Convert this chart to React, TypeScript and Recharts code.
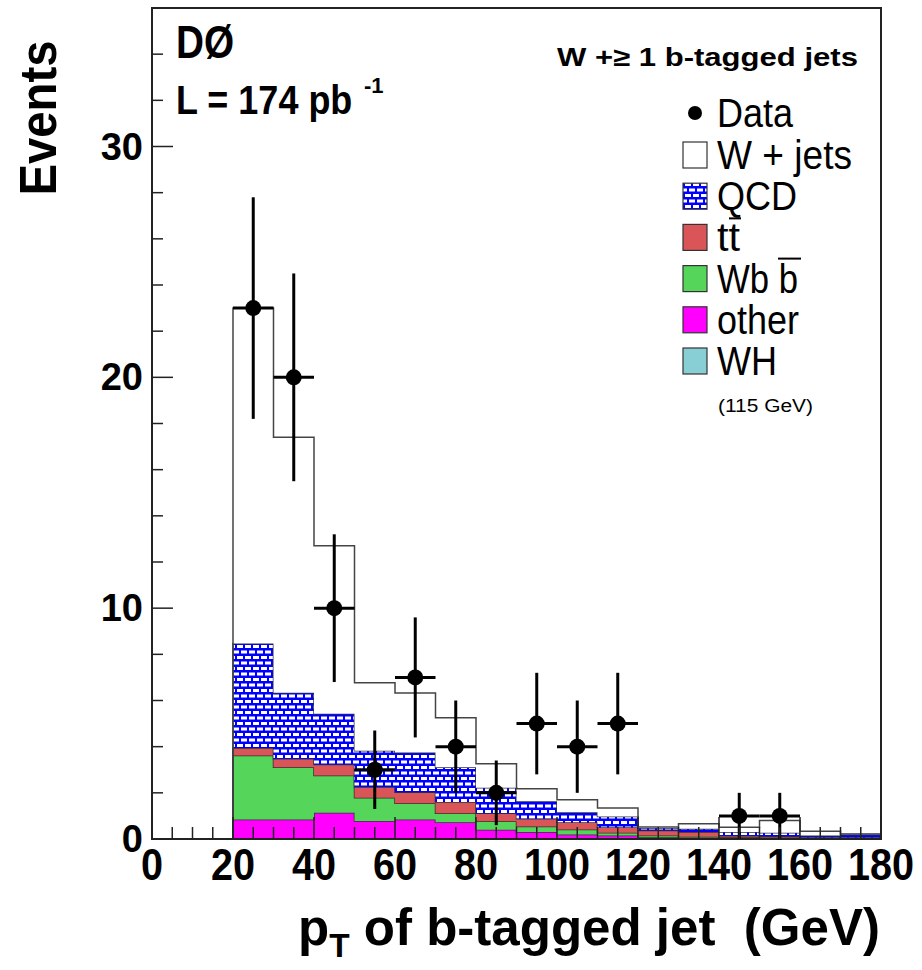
import {
  ComposedChart, Area, Scatter, ErrorBar, XAxis, YAxis,
  ReferenceArea, Legend,
} from 'recharts';

// lower edge of each 10 GeV bin
const binEdges = [0, 10, 20, 30, 40, 50, 60, 70, 80, 90, 100, 110, 120, 130, 140, 150, 160, 170];
const other = [0, 0, 0.85, 0.85, 1.14, 0.78, 0.85, 0.73, 0.40, 0.30, 0.20, 0.15, 0.08, 0.05, 0.04, 0.04, 0.03, 0.03];
const wbb = [0, 0, 2.77, 2.26, 1.61, 1.01, 0.70, 0.39, 0.37, 0.24, 0.21, 0.12, 0.07, 0.05, 0.04, 0.03, 0.02, 0.02];
const ttbar = [0, 0, 0.32, 0.37, 0.48, 0.46, 0.48, 0.48, 0.35, 0.34, 0.32, 0.24, 0.22, 0.20, 0.06, 0.05, 0.03, 0.03];
const qcd = [0, 0, 4.53, 2.86, 2.20, 1.57, 1.72, 1.51, 1.10, 0.75, 0.43, 0.47, 0.11, 0.14, 0.16, 0.15, 0.07, 0.12];
const wjets = [0, 0, 14.53, 11.06, 7.27, 2.95, 2.58, 2.14, 1.04, 0.55, 0.54, 0.36, 0.04, 0.22, 0.21, 0.53, 0.19, 0.02];

// observed events
const dataX = [25, 35, 45, 55, 65, 75, 85, 95, 105, 115, 145, 155];
const dataY = [23, 20, 10, 3, 7, 4, 2, 5, 4, 5, 1, 1];
const dataErr = [4.8, 4.5, 3.2, 1.7, 2.6, 2.0, 1.4, 2.2, 2.0, 2.2, 1.0, 1.0];

const xTicks = [0, 5, 10, 15, 20, 25, 30, 35, 40, 45, 50, 55, 60, 65, 70, 75, 80, 85, 90, 95, 100, 105, 110, 115, 120, 125, 130, 135, 140, 145, 150, 155, 160, 165, 170, 175, 180];
const yTicks = [0, 2, 4, 6, 8, 10, 12, 14, 16, 18, 20, 22, 24, 26, 28, 30, 32, 34, 36];

const legendLabels = ['W + jets', 'QCD', 'tt', 'Wb b', 'other', 'WH'];
const legendFills = ['#ffffff', 'url(#qcdBrickL)', '#d95558', '#55d55a', '#ff00ff', '#87cfd4'];
const legendWidths = [135, 80, 23, 81, 82, 60];

const FONT = '"Liberation Sans", Arial, Helvetica, sans-serif';

// step histogram needs a closing point at 180
const histRows = [...binEdges, 180].map((x, i) => {
  const j = Math.min(i, binEdges.length - 1);
  return { x, other: other[j], wbb: wbb[j], ttbar: ttbar[j], qcd: qcd[j], wjets: wjets[j] };
});

const points = dataX.map((x, i) => ({ x, y: dataY[i], yerr: dataErr[i], xerr: 5 }));

const XTick = (props: any) => {
  const { x, y, payload } = props;
  const v = payload.value;
  const major = v % 20 === 0;
  return (
    <g>
      <line x1={x} x2={x} y1={y} y2={y - (major ? 22 : 12)} stroke="#222" strokeWidth={1.5} />
      {major && (
        <text
          x={x} y={y + 41} textAnchor="middle" fontSize={44} fontWeight="bold" fontFamily={FONT}
          transform={`translate(${x} 0) scale(0.9 1) translate(${-x} 0)`}
        >
          {v}
        </text>
      )}
    </g>
  );
};

const YTick = (props: any) => {
  const { x, y, payload } = props;
  const v = payload.value;
  const major = v % 10 === 0;
  return (
    <g>
      <line x1={x} x2={x + (major ? 21 : 11)} y1={y} y2={y} stroke="#222" strokeWidth={1.5} />
      {major && v < 36 && (
        <text x={x - 9} y={y + 13} textAnchor="end" fontSize={38} fontWeight="bold" fontFamily={FONT}>
          {v}
        </text>
      )}
    </g>
  );
};

const XTitle = () => (
  <text
    x={298} y={945} fontSize={52} fontWeight="bold" fontFamily={FONT}
    textLength={582} lengthAdjust="spacingAndGlyphs" style={{ whiteSpace: 'pre' }}
  >
    p<tspan dy={12} fontSize={34}>T</tspan><tspan dy={-12}> of b-tagged jet  (GeV)</tspan>
  </text>
);

const YTitle = () => (
  <text
    transform="translate(56 118) rotate(-90)" textAnchor="middle"
    fontSize={52} fontWeight="bold" fontFamily={FONT}
    textLength={155} lengthAdjust="spacingAndGlyphs"
  >
    Events
  </text>
);

const Dot = (props: any) => <circle cx={props.cx} cy={props.cy} r={8} fill="#000" />;

const LegendBox = () => {
  const rowY = (i: number) => 155 + i * 41.2;
  return (
    <svg width={260} height={350} style={{ overflow: 'visible' }}>
      <defs>
        <pattern id="qcdBrickL" width="8" height="11" patternUnits="userSpaceOnUse">
          <rect width="8" height="11" fill="#0000ff" />
          <rect x="1" y="1.5" width="6" height="3" fill="#fff" />
          <rect x="-3" y="7" width="6" height="3" fill="#fff" />
          <rect x="5" y="7" width="6" height="3" fill="#fff" />
        </pattern>
      </defs>
      <g transform="translate(-660 -80)" fontFamily={FONT}>
        <circle cx={695} cy={113} r={7} fill="#000" />
        <text x={717} y={127} fontSize={40} textLength={76} lengthAdjust="spacingAndGlyphs">Data</text>
        {legendLabels.map((label, i) => (
          <g key={label}>
            <rect x={683} y={rowY(i) - 13} width={24} height={26} fill={legendFills[i]} stroke="#333" strokeWidth={1.2} />
            <text
              x={717} y={rowY(i) + 14} fontSize={40} style={{ whiteSpace: 'pre' }}
              textLength={legendWidths[i]} lengthAdjust="spacingAndGlyphs"
            >
              {label}
            </text>
          </g>
        ))}
        {/* bars for t-bar and b-bar */}
        <line x1={729} x2={741} y1={rowY(2) - 19} y2={rowY(2) - 19} stroke="#000" strokeWidth={2} />
        <line x1={778} x2={801} y1={rowY(3) - 20} y2={rowY(3) - 20} stroke="#000" strokeWidth={2} />
        <text x={718} y={412} fontSize={18} textLength={95} lengthAdjust="spacingAndGlyphs">(115 GeV)</text>
      </g>
    </svg>
  );
};

export default function App() {
  return (
    <div style={{ position: 'absolute', left: 0, top: 0 }}>
      <ComposedChart
        width={922}
        height={968}
        data={histRows}
        margin={{ top: 8, right: 41, bottom: 128, left: 151 }}
      >
        <defs>
          <pattern id="qcdBrick" width="8" height="11" patternUnits="userSpaceOnUse">
            <rect width="8" height="11" fill="#0000ff" />
            <rect x="1" y="1.5" width="6" height="3" fill="#fff" />
            <rect x="-3" y="7" width="6" height="3" fill="#fff" />
            <rect x="5" y="7" width="6" height="3" fill="#fff" />
          </pattern>
        </defs>
        <Area type="stepAfter" dataKey="other" stackId="mc" fill="#ff00ff" fillOpacity={1} stroke="#333" strokeWidth={1.5} dot={false} isAnimationActive={false} />
        <Area type="stepAfter" dataKey="wbb" stackId="mc" fill="#55d55a" fillOpacity={1} stroke="#333" strokeWidth={1.5} dot={false} isAnimationActive={false} />
        <Area type="stepAfter" dataKey="ttbar" stackId="mc" fill="#d95558" fillOpacity={1} stroke="#333" strokeWidth={1.5} dot={false} isAnimationActive={false} />
        <Area type="stepAfter" dataKey="qcd" stackId="mc" fill="url(#qcdBrick)" fillOpacity={1} stroke="#333" strokeWidth={1.5} dot={false} isAnimationActive={false} />
        <Area type="stepAfter" dataKey="wjets" stackId="mc" fill="#ffffff" fillOpacity={1} stroke="#444" strokeWidth={1.5} dot={false} isAnimationActive={false} />
        <Scatter data={points} dataKey="y" shape={Dot} isAnimationActive={false}>
          <ErrorBar dataKey="yerr" direction="y" width={0} stroke="#000" strokeWidth={3} />
          <ErrorBar dataKey="xerr" direction="x" width={0} stroke="#000" strokeWidth={3} />
        </Scatter>
        <XAxis
          type="number" dataKey="x" domain={[0, 180]} ticks={xTicks} interval={0}
          allowDataOverflow tick={<XTick />} tickLine={false} axisLine={false}
          tickSize={0} tickMargin={0} height={1} label={<XTitle />}
        />
        <YAxis
          type="number" domain={[0, 36]} ticks={yTicks} interval={0} width={1}
          allowDataOverflow tick={<YTick />} tickLine={false} axisLine={false}
          tickSize={0} tickMargin={0} label={<YTitle />}
        />
        <ReferenceArea x1={0} x2={180} y1={0} y2={36} fill="none" stroke="#222" strokeWidth={2} />
        <Legend
          layout="vertical" align="center" verticalAlign="middle"
          wrapperStyle={{ position: 'absolute', left: 660, top: 80, width: 260, height: 350 }}
          content={() => <LegendBox />}
        />
        <text x={176} y={58} fontSize={46} fontWeight="bold" fontFamily={FONT} textLength={58} lengthAdjust="spacingAndGlyphs">DØ</text>
        <text transform="translate(176 114) scale(1 1.15)" x={0} y={0} fontSize={36} fontWeight="bold" fontFamily={FONT}>L = 174 pb</text>
        <text x={364} y={93} fontSize={22} fontWeight="bold" fontFamily={FONT}>-1</text>
        <text x={557} y={66} fontSize={26} fontWeight="bold" fontFamily={FONT} textLength={301} lengthAdjust="spacingAndGlyphs">W +≥ 1 b-tagged jets</text>
      </ComposedChart>
    </div>
  );
}
